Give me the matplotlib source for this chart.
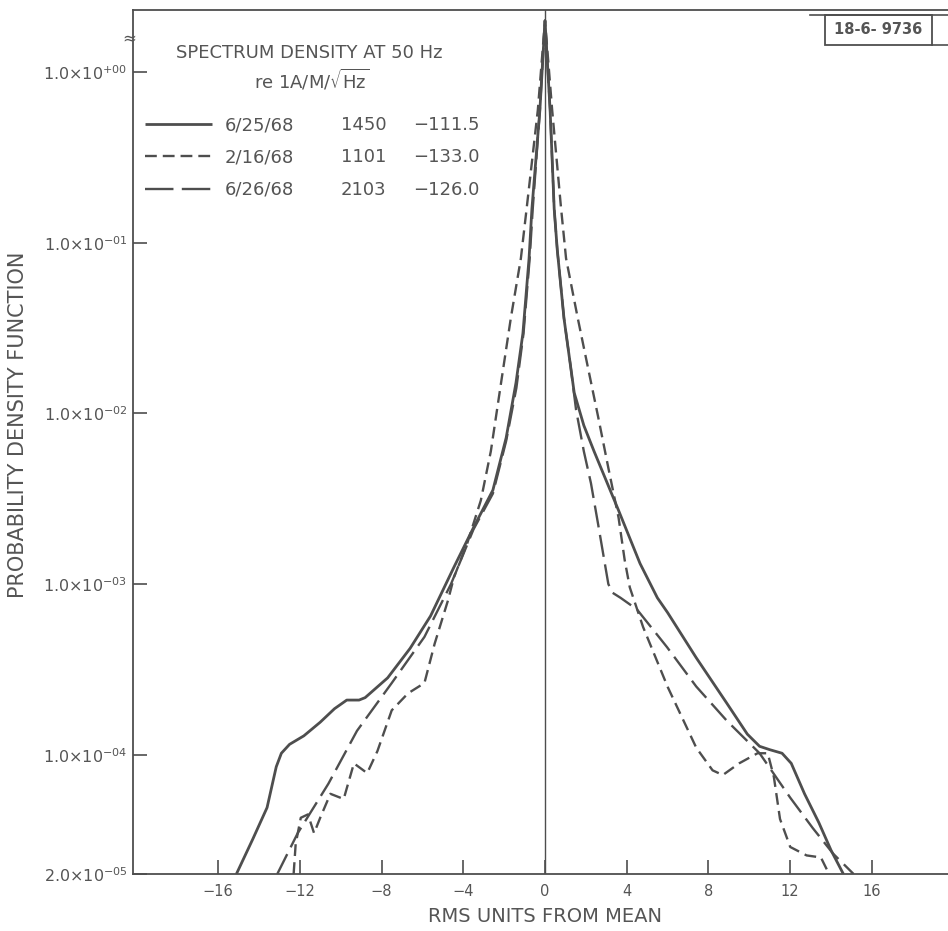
import matplotlib
matplotlib.use("Agg")
import matplotlib.pyplot as plt
from matplotlib.lines import Line2D
from matplotlib.patches import Rectangle

plt.rcParams['font.family'] = ['DejaVu Sans']
plt.rcParams['mathtext.fontset'] = 'dejavusans'
plt.rcParams['lines.scale_dashes'] = False

# ---------------- data ----------------
# 6/25/68  (solid)
x_0625 = [-15.1, -14.3, -13.6, -13.15, -12.9, -12.5, -11.8, -11.0, -10.3, -9.7, -9.1, -8.8,
          -7.7, -6.6, -5.6, -4.45, -3.5, -2.55, -1.9, -1.42, -1.08, -0.78, -0.64, -0.25, 0.0,
          0.25, 0.45, 0.6, 0.93, 1.43, 1.9, 2.4, 3.6, 4.65, 5.5, 6.0, 7.4, 8.9, 9.9, 10.5, 11.0,
          11.6, 12.05, 12.7, 13.4, 14.0, 14.6]
y_0625 = [2.0e-5, 3.2e-5, 4.9e-5, 8.5e-5, 1.02e-4, 1.15e-4, 1.29e-4, 1.55e-4, 1.86e-4, 2.09e-4,
          2.09e-4, 2.16e-4, 2.82e-4, 4.2e-4, 6.5e-4, 1.26e-3, 2.14e-3, 3.55e-3, 7.2e-3, 1.51e-2,
          2.95e-2, 8.1e-2, 0.158, 0.6, 2.0, 0.6, 0.158, 9.1e-2, 3.6e-2, 1.32e-2, 8.5e-3, 6.0e-3,
          2.7e-3, 1.32e-3, 8.3e-4, 6.8e-4, 3.7e-4, 2.0e-4, 1.32e-4, 1.12e-4, 1.07e-4, 1.02e-4,
          8.9e-5, 5.9e-5, 4.0e-5, 2.75e-5, 2.0e-5]

# 2/16/68  (short dashes)
x_0216 = [-12.3, -12.2, -11.95, -11.6, -11.3, -11.0, -10.5, -9.85, -9.35, -8.7, -8.2, -7.5,
          -6.7, -5.9, -5.4, -4.75, -4.45, -3.8, -3.14, -2.65, -2.15, -1.67, -1.18, -0.9, -0.35,
          0.0, 0.35, 0.78, 1.03, 1.6, 2.1, 2.6, 3.1, 3.6, 3.9, 4.15, 4.8, 6.0, 7.4, 8.2, 8.7,
          9.5, 10.4, 10.9, 11.2, 11.5, 12.0, 12.8, 13.5, 13.9]
y_0216 = [2.0e-5, 3.0e-5, 4.27e-5, 4.47e-5, 3.47e-5, 4.27e-5, 5.9e-5, 5.5e-5, 8.9e-5, 7.8e-5,
          1.05e-4, 1.82e-4, 2.29e-4, 2.63e-4, 4.47e-4, 8.0e-4, 1.10e-3, 1.74e-3, 3.09e-3, 6.0e-3,
          1.51e-2, 3.63e-2, 8.1e-2, 0.158, 0.6, 2.0, 0.6, 0.162, 8.1e-2, 3.63e-2, 1.86e-2,
          9.55e-3, 4.79e-3, 2.45e-3, 1.38e-3, 9.55e-4, 5.6e-4, 2.5e-4, 1.10e-4, 8.1e-5, 7.6e-5,
          8.9e-5, 1.02e-4, 1.02e-4, 7.4e-5, 4.2e-5, 2.88e-5, 2.57e-5, 2.5e-5, 2.0e-5]

# 6/26/68  (long dashes)
x_0626 = [-13.1, -12.1, -10.6, -9.2, -7.5, -5.9, -4.6, -3.5, -2.55, -1.9, -1.4, -1.05, -0.75,
          -0.6, -0.25, 0.0, 0.25, 0.45, 0.6, 0.93, 1.25, 1.52, 1.9, 2.25, 2.6, 2.9, 3.1, 3.3,
          3.7, 4.5, 5.97, 7.4, 8.9, 10.5, 12.0, 13.1, 14.1, 15.1]
y_0626 = [2.0e-5, 3.47e-5, 6.76e-5, 1.38e-4, 2.63e-4, 4.9e-4, 1.0e-3, 2.09e-3, 3.39e-3, 6.9e-3,
          1.41e-2, 2.95e-2, 8.1e-2, 0.158, 0.6, 2.0, 0.6, 0.158, 9.1e-2, 3.6e-2, 1.9e-2, 1.05e-2,
          6.0e-3, 3.89e-3, 2.24e-3, 1.38e-3, 1.0e-3, 8.9e-4, 8.3e-4, 7.1e-4, 4.27e-4, 2.51e-4,
          1.58e-4, 1.02e-4, 5.6e-5, 3.72e-5, 2.63e-5, 2.0e-5]

series_dates = ['6/25/68', '2/16/68', '6/26/68']
series_counts = ['1450', '1101', '2103']
series_levels = ['\u2212111.5', '\u2212133.0', '\u2212126.0']
legend_title = ['SPECTRUM DENSITY AT 50 Hz', r're 1A/M/$\sqrt{\mathrm{Hz}}$']

xtick_vals = [-16, -12, -8, -4, 0, 4, 8, 12, 16]
xtick_labels = ['\u221216', '\u221212', '\u22128', '\u22124', '0', '4', '8', '12', '16']
ytick_vals = [1.0, 1e-1, 1e-2, 1e-3, 1e-4, 2e-5]
ytick_labels = ['1.0\u00d710$^{+00}$', '1.0\u00d710$^{-01}$', '1.0\u00d710$^{-02}$',
                '1.0\u00d710$^{-03}$', '1.0\u00d710$^{-04}$', '2.0\u00d710$^{-05}$']
x_title = 'RMS UNITS FROM MEAN'
y_title = 'PROBABILITY DENSITY FUNCTION'
stamp = '18-6- 9736'

# ---------------- drawing ----------------
W, H = 948, 931
INK = '#4e4e4e'
TXT = '#555555'

def fx(px):
    return px / W

def fy(py):
    return 1 - py / H

fig = plt.figure(figsize=(W / 100, H / 100), dpi=100)
fig.patch.set_facecolor('white')
ax = fig.add_axes([fx(133), fy(874), 1 - fx(133), fy(10) - fy(874)])
ax.set_yscale('log')
ax.set_xlim(-20.16, 19.72)
ax.set_ylim(2e-5, 2.31)

styles = [
    dict(ls='-', lw=2.0),
    dict(ls=(0, (8.5, 4.5)), lw=1.7),
    dict(ls=(0, (16, 5.5)), lw=1.7),
]
legend_styles = [
    dict(ls='-', lw=2.0),
    dict(ls=(0, (8.5, 4.3)), lw=1.7),
    dict(ls=(0, (20.5, 6)), lw=1.7),
]
data = [(x_0625, y_0625), (x_0216, y_0216), (x_0626, y_0626)]
for (xs, ys), st, lab in zip(data, styles, series_dates):
    ax.plot(xs, ys, color=INK, label=lab, solid_capstyle='butt', dash_capstyle='butt',
            solid_joinstyle='round', dash_joinstyle='round', **st)

ax.axvline(0, color=INK, lw=1.0)

ax.spines['right'].set_visible(False)
for s in ('left', 'top', 'bottom'):
    ax.spines[s].set_color(INK)
    ax.spines[s].set_linewidth(1.3)

ax.minorticks_off()
ax.set_xticks(xtick_vals)
ax.set_xticklabels(xtick_labels)
ax.set_yticks(ytick_vals)
ax.set_yticklabels(ytick_labels)
ax.yaxis.set_minor_locator(matplotlib.ticker.NullLocator())
ax.tick_params(axis='both', direction='in', length=10, width=1.2, color=INK,
               labelcolor=TXT)
ax.tick_params(axis='x', labelsize=10.5, pad=7)
ax.tick_params(axis='y', labelsize=11.5, pad=4)

ax.set_xlabel(x_title, fontsize=14, color=TXT)
ax.xaxis.set_label_coords((545 - 133) / 815, (874 - 907) / 864)
ax.set_ylabel(y_title, fontsize=15, color=TXT)
ax.yaxis.set_label_coords((28 - 133) / 815, (874 - 425) / 864)

# legend block (drawn as in the original lettering)
fig.text(fx(309), fy(53), legend_title[0], ha='center', va='center', fontsize=13, color=TXT)
fig.text(fx(312), fy(80), legend_title[1], ha='center', va='center', fontsize=13, color=TXT)
row_y = [125, 157, 190]
for ry, st, d, c, lv in zip(row_y, legend_styles, series_dates, series_counts, series_levels):
    fig.add_artist(Line2D([fx(145), fx(212)], [fy(ry - 1), fy(ry - 1)], color=INK,
                          solid_capstyle='butt', dash_capstyle='butt', **st))
    fig.text(fx(225), fy(ry), d, ha='left', va='center', fontsize=13, color=TXT)
    fig.text(fx(341), fy(ry), c, ha='left', va='center', fontsize=13, color=TXT)
    fig.text(fx(413), fy(ry), lv, ha='left', va='center', fontsize=13, color=TXT)

# axis break mark
fig.text(fx(129), fy(38), '\u2248', ha='center', va='center', fontsize=12, color=TXT)

# figure number stamp
fig.add_artist(Rectangle((fx(825), fy(45)), fx(932) - fx(825), fy(15) - fy(45),
                         transform=fig.transFigure, fill=False, ec=INK, lw=1.3))
fig.add_artist(Line2D([fx(810), 1.0], [fy(15), fy(15)], color=INK, lw=1.2))
fig.add_artist(Line2D([fx(932), 1.0], [fy(45), fy(45)], color=INK, lw=1.2))
fig.text(fx(878), fy(30), stamp, ha='center', va='center', fontsize=10.5,
         fontweight='bold', color=TXT)

fig.savefig('out.png', dpi=100, facecolor='white')
